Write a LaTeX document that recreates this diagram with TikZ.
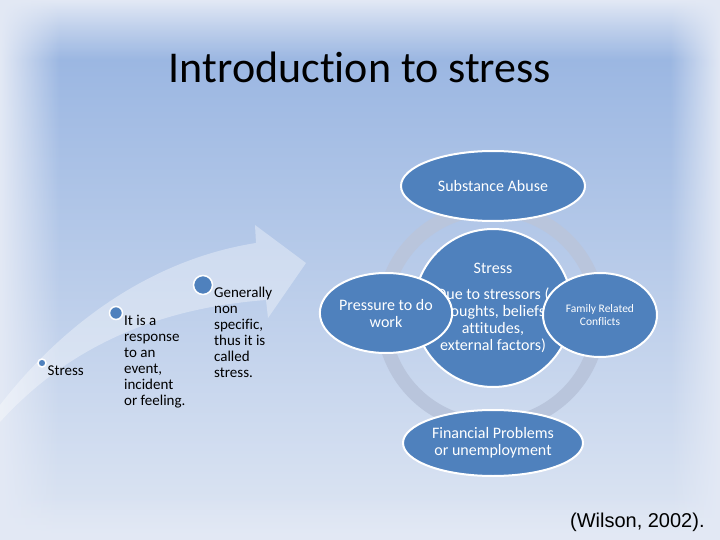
\documentclass[tikz,border=0pt]{standalone}
\usepackage{fontspec}
\usepackage{xcolor}
\setmainfont{Carlito}[Ligatures=NoCommon]
\newfontfamily\citefont{Liberation Sans}
\usetikzlibrary{shapes.geometric,fadings}
\definecolor{officeblue}{HTML}{4F81BD}
\definecolor{bgtop}{HTML}{93B1E0}
\definecolor{bgbottom}{HTML}{DEE6F3}
\definecolor{bgedge}{HTML}{E3E9F5}
\definecolor{ringgray}{HTML}{B9C5DC}
\tikzfading[name=fade right, left color=transparent!0, right color=transparent!100]
\tikzfading[name=fade left, left color=transparent!100, right color=transparent!0]
\tikzfading[name=fade down, top color=transparent!0, bottom color=transparent!100]
\tikzfading[name=fade up, top color=transparent!100, bottom color=transparent!0]

\begin{document}
\begin{tikzpicture}[x=1pt,y=-1pt,thick,
   cause/.style={ellipse,draw=white,line width=2pt,fill=officeblue,text=white,inner sep=0pt,align=center,font=\fontsize{16}{17}\selectfont},
   stress circle/.style={cause,circle,minimum size=158pt},
   step dot/.style={circle,draw=white,line width=1.5pt,fill=officeblue,inner sep=0pt},
   step text/.style={anchor=north west,inner sep=0pt,align=left,font=\fontsize{15}{16}\selectfont}]

  \useasboundingbox (0,0) rectangle (720,540);
  \fill[top color=bgtop,bottom color=bgbottom] (0,0) rectangle (720,540);
  \fill[bgedge,path fading=fade down] (0,0) rectangle (720,60);
  \fill[bgedge,path fading=fade right] (0,0) rectangle (60,540);
  \fill[bgedge,path fading=fade left] (670,0) rectangle (720,540);
  \fill[bgedge,path fading=fade up] (0,495) rectangle (720,540);

  \node[font=\fontsize{44}{50}\selectfont] (title) at (360,67) {Introduction to stress};

  \fill[white,opacity=0.35] (0,405) .. controls (70,315) and (160,258) .. (256,243)
    -- (255,225) -- (306,263) -- (268,318) -- (266,300)
    .. controls (160,308) and (70,345) .. (0,422) -- cycle;

  \foreach \n/\x/\y/\r/\txt in {1/42/363/8pt/{Stress},
      2/116/313/13pt/{It is a\\response\\to an\\event,\\incident\\or feeling.},
      3/203/285/19pt/{Generally\\non\\specific,\\thus it is\\called\\stress.}} {
    \node[step dot,minimum size=\r] (dot\n) at (\x,\y) {};
    \node[step text] (text\n) at ([xshift=0.5pt,yshift=-2pt]dot\n.east) {\txt};
  }

  \coordinate (hub) at (491,317);
  \draw[ringgray,line width=14pt] (hub) circle (108);

  \node[stress circle] (stress) at (493,308) {Stress\\[9pt]Due to stressors (\\thoughts, beliefs,\\attitudes,\\external factors)};
  \node[cause,minimum width=184pt,minimum height=70pt,node distance=122pt,above of=stress] (abuse) {Substance Abuse};
  \node[cause,minimum width=180pt,minimum height=66pt,node distance=135pt,below of=stress] (money) {Financial Problems\\or unemployment};
  \node[cause,minimum width=132pt,minimum height=80pt,node distance=107pt,left of=stress,yshift=-5pt] (work) {Pressure to do\\work};
  \node[cause,minimum width=114pt,minimum height=84pt,node distance=107pt,right of=stress,yshift=-7pt,font=\fontsize{11.5}{13}\selectfont] (family) {Family Related\\Conflicts};

  \node[font=\citefont\fontsize{20}{23}\selectfont,anchor=east,inner sep=0pt] (cite) at (705,522) {(Wilson, 2002).};
\end{tikzpicture}
\end{document}
